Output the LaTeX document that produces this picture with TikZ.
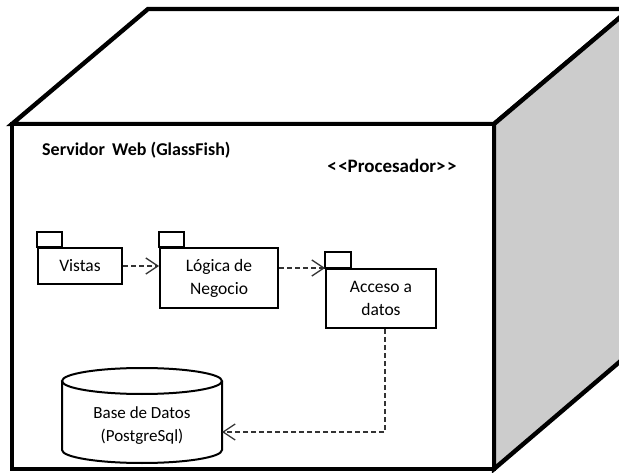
\documentclass[tikz,border=0pt]{standalone}
\usepackage{fontspec}
\setmainfont{Carlito}
\usetikzlibrary{arrows.meta,positioning}
\tikzset{
  cubeline/.style={line width=4.4pt, line join=miter},
  pkgbody/.style={draw, line width=2pt, rectangle, inner sep=0pt, align=center, font=\fontsize{17.5}{23}\selectfont},
  pkgtab/.style={draw, line width=2pt},
  dep/.style={draw=black!80, line width=1.3pt, dash pattern=on 5pt off 3pt, -{Straight Barb[length=12pt,width=16pt,line width=1.3pt]}},
  lbl/.style={font=\fontsize{18}{20}\selectfont\bfseries, inner sep=0pt}
}
\begin{document}
\begin{tikzpicture}[x=1pt,y=-1pt]
\clip (0,0) rectangle (619,473);
\fill[white] (0,0) rectangle (619,473);
% cube
\filldraw[fill=white, cubeline] (12,124) -- (148,9) -- (630,9) -- (494,124) -- cycle;
\filldraw[fill=black!20, cubeline] (494,124) -- (630,9) -- (630,353) -- (494,469) -- cycle;
\filldraw[fill=white, cubeline] (12,124) rectangle (494,469);
\node[lbl, anchor=west] (srv) at (42,150) {Servidor\hspace{0.4em}Web (GlassFish)};
\node[lbl, font=\fontsize{19}{20}\selectfont\bfseries] (proc) at (392,166) {<\kern1.5pt<Procesador>\kern1.5pt>};
% packages
\node[pkgbody, minimum width=84, minimum height=36] (vis) at (80,266) {Vistas};
\draw[pkgtab] (vis.north west) rectangle ++(25,-15);
\node[pkgbody, minimum width=118, minimum height=60] (log) at (219,278) {Lógica de\\Negocio};
\draw[pkgtab] (log.north west) rectangle ++(25,-15);
\node[pkgbody, minimum width=110, minimum height=59] (acc) at (381,298.5) {Acceso a\\datos};
\draw[pkgtab] (acc.north west) rectangle ++(26,-16);
% database
\draw[line width=2pt, fill=white] (62,381) -- (62,450) arc[start angle=180, end angle=0, x radius=80, y radius=13] -- (222,381);
\draw[line width=2pt] (142,381) ellipse [x radius=80, y radius=13];
\node[font=\fontsize{17}{23}\selectfont, align=center] (db) at (142,426) {Base de Datos\\(PostgreSql)};
\coordinate (dbR) at (222,432);
% dependencies
\draw[dep] (vis.east) -- (log.west |- vis.east);
\draw[dep] (log.east |- acc.north west) -- (acc.north west);
\draw[dep] ([xshift=4pt]acc.south) |- (dbR);
\end{tikzpicture}
\end{document}
